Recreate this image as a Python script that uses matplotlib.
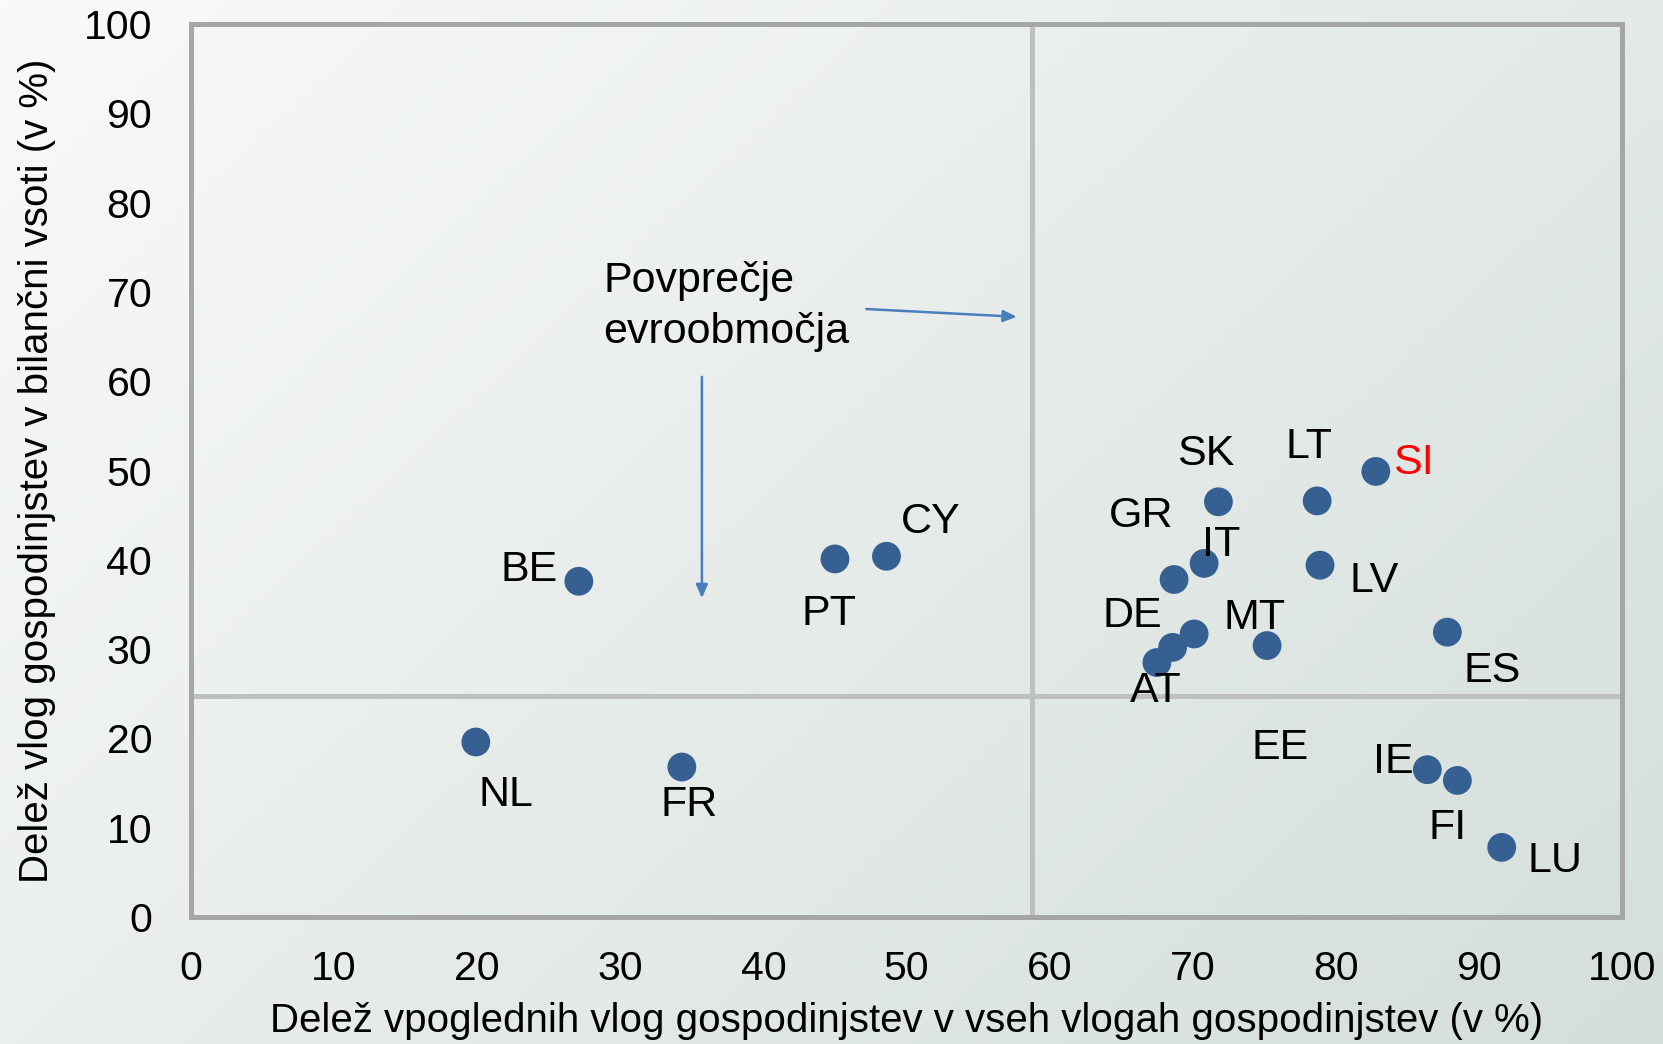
import numpy as np
import matplotlib.pyplot as plt

plt.rcParams['font.family'] = ['Liberation Sans', 'DejaVu Sans']

# --- data ---
countries = ["NL", "BE", "FR", "PT", "CY", "AT", "DE", "EE", "GR", "IT",
             "SK", "MT", "LT", "LV", "SI", "ES", "IE", "FI", "LU"]
sight_share = [19.9, 27.1, 34.3, 45.0, 48.6, 67.5, 68.6, 70.1, 68.7, 70.8,
               71.8, 75.2, 78.7, 78.9, 82.8, 87.8, 86.4, 88.5, 91.6]
balance_share = [19.6, 37.6, 16.8, 40.1, 40.4, 28.5, 30.2, 31.7, 37.8, 39.6,
                 46.5, 30.4, 46.6, 39.4, 49.9, 31.9, 16.5, 15.3, 7.8]
avg_x = 58.8
avg_y = 24.7

# label offsets from each point (data units)
label_offset = {
    "NL": (2.1, -5.9), "BE": (-3.5, 1.3), "FR": (0.5, -4.3), "PT": (-0.4, -6.2),
    "CY": (3.1, 3.8), "AT": (-0.1, -3.2), "DE": (-2.8, 3.5), "EE": (6.0, -12.8),
    "GR": (-2.3, 7.1), "IT": (1.2, 2.1), "SK": (-0.9, 5.3), "MT": (-0.9, 3.1),
    "LT": (-0.6, 6.0), "LV": (3.8, -1.8), "SI": (2.6, 0.9), "ES": (3.1, -4.4),
    "IE": (-2.4, 0.9), "FI": (-0.7, -5.3), "LU": (3.7, -1.5),
}

fig = plt.figure(figsize=(16.63, 10.44), dpi=100)

# background gradient
bg = fig.add_axes([0, 0, 1, 1], zorder=-10)
yy, xx = np.mgrid[0:1:200j, 0:1:200j]
t = (xx * 0.6 + yy * 0.4)
c0 = np.array([249, 250, 250]) / 255
c1 = np.array([212, 222, 219]) / 255
img = c0[None, None, :] * (1 - t[..., None]) + c1[None, None, :] * t[..., None]
bg.imshow(img, aspect="auto", extent=[0, 1, 0, 1], origin="upper")
bg.axis("off")

ax = fig.add_axes([0.1149, 0.1216, 0.8604, 0.8554])
ax.patch.set_alpha(0)

ax.axvline(avg_x, color="#bfbfbf", lw=3.6, zorder=1)
ax.axhline(avg_y, color="#bfbfbf", lw=3.6, zorder=1)

ax.scatter(sight_share, balance_share, s=430, color="#366092", zorder=3,
           edgecolors="none")

for name, x, y in zip(countries, sight_share, balance_share):
    dx, dy = label_offset[name]
    ax.text(x + dx, y + dy, name, fontsize=31, ha="center", va="center",
            color="red" if name == "SI" else "black", zorder=4)

ax.text(28.8, 73.5, "Povprečje\nevroobmočja", fontsize=31, ha="left",
        va="top", linespacing=1.36)
arrow = dict(arrowstyle="-|>,head_length=0.8,head_width=0.35",
             color="#4a7ebb", lw=1.8)
ax.annotate("", xy=(57.9, 67.2), xytext=(47.0, 68.1), arrowprops=arrow)
ax.annotate("", xy=(35.7, 35.4), xytext=(35.7, 60.8), arrowprops=arrow)

ax.set_xlim(0, 100)
ax.set_ylim(0, 100)
ax.set_xticks(np.arange(0, 101, 10))
ax.set_yticks(np.arange(0, 101, 10))
ax.tick_params(length=0, labelsize=29.5)
ax.tick_params(axis="x", pad=24)
ax.tick_params(axis="y", pad=28)
for sp in ax.spines.values():
    sp.set_color("#a6a6a6")
    sp.set_linewidth(3.6)

ax.set_xlabel("Delež vpoglednih vlog gospodinjstev v vseh vlogah gospodinjstev (v %)",
              fontsize=29, labelpad=10)
ax.set_ylabel("Delež vlog gospodinjstev v bilančni vsoti (v %)", fontsize=29,
              labelpad=20)

fig.savefig("out.png", dpi=100)
